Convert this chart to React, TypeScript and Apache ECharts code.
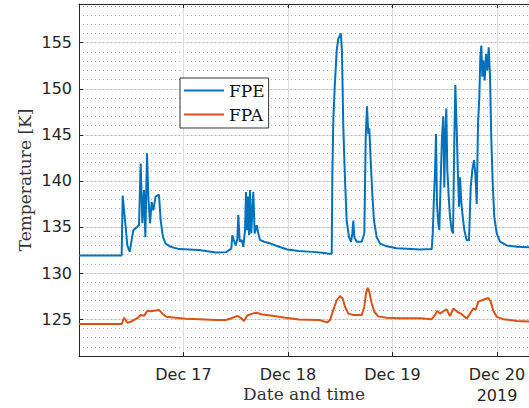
import React, { useEffect, useRef } from "react";
import * as echarts from "echarts";

// Hours since Dec 16 00:00 (2019) and temperatures in K
const fpeHours = [
  0, 9.8, 10.03, 10.41, 10.72, 11.1, 11.64, 12.1, 12.48, 13.17, 13.78, 14.16, 14.55, 14.93, 15.24, 15.62, 15.92,
  16.31, 16.69, 17.07, 17.6, 18.37, 18.76, 19.29, 19.9, 21.05, 22.97, 25.26, 27.56, 31.4, 33.7, 34.98, 35.21,
  35.53, 35.99, 36.36, 36.59, 36.91, 37.37, 37.74, 38.13, 38.36, 38.59, 38.82, 39.05, 39.28, 39.57, 40.03, 40.35,
  40.81, 41.18, 41.57, 42.49, 44.03, 45.93, 47.84, 50.53, 53.58, 55.88, 57.42, 58.04, 58.18, 58.41, 58.73, 59.19,
  59.55, 59.94, 60.17, 60.4, 60.7, 61.09, 61.48, 62.01, 62.47, 62.77, 63.0, 63.23, 63.78, 64.93, 65.53, 65.85,
  66.15, 66.44, 66.67, 66.99, 67.36, 67.75, 68.37, 69.13, 70.67, 72.97, 75.26, 78.32, 81.0, 81.24, 81.53, 81.76,
  81.99, 82.22, 82.52, 82.75, 83.07, 83.37, 83.67, 83.9, 84.13, 84.36, 84.59, 84.91, 85.21, 85.6, 85.9, 86.2,
  86.43, 86.75, 86.98, 87.28, 87.51, 87.8, 88.13, 88.5, 89.04, 89.57, 89.96, 90.33, 90.72, 91.02, 91.34, 91.64,
  91.94, 92.17, 92.4, 92.63, 92.86, 93.18, 93.48, 93.78, 94.1, 94.4, 94.7, 95.02, 95.38, 95.93, 96.69, 98.23,
  100.53, 103.35,
];
const fpeValues = [
  131.9, 131.9, 138.4, 136.5, 135.0, 133.0, 132.3, 133.6, 134.65, 134.95, 135.2, 141.9, 135.4, 139.0, 133.9, 143.0,
  138.3, 135.4, 137.7, 136.8, 138.3, 138.5, 135.7, 133.9, 133.2, 132.85, 132.6, 132.55, 132.5, 132.23, 132.25,
  132.65, 134.1, 133.6, 133.0, 133.7, 136.3, 133.4, 133.6, 132.85, 134.65, 138.8, 134.65, 138.3, 134.1, 139.0,
  134.3, 138.8, 134.3, 135.2, 134.3, 133.6, 133.4, 133.2, 132.85, 132.55, 132.4, 132.3, 132.2, 132.1, 132.1, 140.4,
  146.6, 150.2, 154.2, 155.4, 155.8, 156.0, 153.8, 145.9, 140.1, 135.7, 133.9, 133.4, 134.3, 135.7, 133.9, 133.4,
  133.4, 134.3, 144.8, 148.1, 145.1, 145.7, 142.2, 138.6, 135.7, 133.9, 133.2, 132.9, 132.7, 132.65, 132.55, 132.6,
  134.3, 138.3, 140.8, 145.1, 137.5, 135.4, 134.65, 140.1, 144.8, 147.0, 139.3, 144.8, 147.85, 141.2, 138.3, 136.1,
  134.65, 134.3, 144.4, 150.4, 145.5, 141.5, 137.2, 140.4, 137.7, 136.1, 134.65, 133.55, 133.55, 139.3, 141.2,
  142.25, 140.8, 137.5, 146.2, 149.1, 153.45, 154.7, 151.3, 153.1, 150.9, 153.8, 152.0, 154.5, 151.3, 144.4, 139.7,
  136.1, 134.3, 133.4, 133.0, 132.85, 132.8,
];

const fpaHours = [
  0, 9.8, 10.34, 11.1, 12.25, 13.4, 14.16, 14.93, 15.7, 16.46, 17.2, 18.37, 19.14, 20.06, 22.2, 24.5, 27.56, 31.6,
  33.7, 34.84, 36.36, 37.14, 37.9, 38.65, 39.8, 40.72, 42.1, 44.4, 47.47, 50.53, 55.12, 57.03, 57.65, 58.41, 59.19,
  59.94, 60.56, 61.09, 61.85, 63.0, 64.93, 65.53, 65.92, 66.3, 66.67, 67.23, 67.82, 68.74, 70.67, 73.73, 78.32, 81.0,
  81.76, 82.29, 82.91, 83.67, 84.45, 85.21, 85.97, 86.89, 87.9, 89.04, 89.8, 90.56, 91.11, 91.71, 92.86, 94.0,
  94.56, 95.15, 95.93, 97.45, 100.53, 103.35,
];
const fpaValues = [
  124.46, 124.46, 125.15, 124.6, 124.8, 125.1, 125.45, 125.36, 125.9, 125.85, 125.9, 126.0, 125.6, 125.25, 125.15,
  125.03, 125.0, 124.9, 124.9, 125.07, 125.36, 125.15, 124.8, 125.4, 125.6, 125.7, 125.5, 125.36, 125.15, 124.97,
  124.9, 124.65, 124.9, 126.0, 127.05, 127.5, 127.24, 126.35, 125.6, 125.45, 125.45, 126.35, 127.8, 128.4, 127.96,
  126.7, 125.8, 125.3, 125.15, 125.1, 125.1, 125.0, 125.45, 125.9, 125.6, 125.87, 126.05, 125.33, 126.15, 125.8,
  125.54, 125.07, 125.6, 126.15, 126.05, 126.9, 127.1, 127.3, 126.9, 125.9, 125.25, 125.0, 124.8, 124.75,
];

const dayTicks = [24, 48, 72, 96];
const dayLabels = ["Dec 17", "Dec 18", "Dec 19", "Dec 20\n2019"];
const tempTicks = [125, 130, 135, 140, 145, 150, 155];
const seriesNames = ["FPE", "FPA"];

const X_MIN = 0;
const X_MAX = 103.35;
const Y_MIN = 121;
const Y_MAX = 159.2;

const AXIS_COLOR = "#262626";
const SANS = "DejaVu Sans";
const SERIF = "DejaVu Serif";
const LINE_ICON = "path://M0,0 L40,0 L40,2 L0,2 Z";

export default function App() {
  const ref = useRef<HTMLDivElement>(null);

  useEffect(() => {
    if (!ref.current) return;
    const chart = echarts.init(ref.current, null, { renderer: "svg" });
    const fpeData = fpeHours.map((h, i) => [h, fpeValues[i]]);
    const fpaData = fpaHours.map((h, i) => [h, fpaValues[i]]);

    chart.setOption({
      animation: false,
      backgroundColor: "#ffffff",
      grid: { left: 79, right: 0, top: 4, bottom: 52, outerBoundsMode: "none" },
      legend: {
        data: seriesNames,
        orient: "vertical",
        left: 180,
        top: 78,
        padding: [4, 4, 5, 4],
        itemGap: 7,
        itemWidth: 40,
        itemHeight: 2,
        icon: LINE_ICON,
        borderColor: "#333",
        borderWidth: 1,
        borderRadius: 0,
        backgroundColor: "#fff",
        textStyle: { fontFamily: SERIF, fontSize: 17, color: "#111" },
      },
      xAxis: [
        {
          type: "value",
          min: X_MIN,
          max: X_MAX,
          interval: 24,
          name: "Date and time",
          nameLocation: "middle",
          nameGap: 29,
          nameMoveOverlap: false,
          nameTextStyle: { fontFamily: SERIF, fontSize: 17, color: "#333" },
          axisLine: { show: true, onZero: false, lineStyle: { color: AXIS_COLOR, width: 1 } },
          axisTick: { show: true, inside: true, length: 4, lineStyle: { color: AXIS_COLOR } },
          axisLabel: {
            customValues: dayTicks,
            formatter: (v: number) => {
              const i = dayTicks.indexOf(Math.round(v));
              return i >= 0 ? dayLabels[i] : "";
            },
            fontFamily: SANS,
            fontSize: 16,
            color: AXIS_COLOR,
            margin: 8,
            lineHeight: 21,
          },
          splitLine: { show: true, lineStyle: { color: "#dcdcdc", width: 1 } },
        },
        {
          type: "value",
          position: "top",
          min: X_MIN,
          max: X_MAX,
          interval: 24,
          axisLine: { show: true, onZero: false, lineStyle: { color: AXIS_COLOR, width: 1 } },
          axisTick: { show: true, inside: true, length: 4, lineStyle: { color: AXIS_COLOR } },
          axisLabel: { show: false },
          splitLine: { show: false },
        },
      ],
      yAxis: [
        {
          type: "value",
          min: Y_MIN,
          max: Y_MAX,
          interval: 1,
          name: "Temperature [K]",
          nameLocation: "middle",
          nameRotate: 90,
          nameGap: 46,
          nameMoveOverlap: false,
          nameTextStyle: { fontFamily: SERIF, fontSize: 17, color: "#333" },
          axisLine: { show: true, onZero: false, lineStyle: { color: AXIS_COLOR, width: 1 } },
          axisTick: { show: true, inside: true, length: 4, customValues: tempTicks, lineStyle: { color: AXIS_COLOR } },
          axisLabel: {
            customValues: tempTicks,
            fontFamily: SANS,
            fontSize: 16,
            color: AXIS_COLOR,
            margin: 7,
          },
          splitLine: { show: true, lineStyle: { color: "#dcdcdc", width: 1 } },
        },
        {
          type: "value",
          min: Y_MIN,
          max: Y_MAX,
          interval: 1,
          axisLine: { show: false },
          axisTick: { show: false },
          axisLabel: { show: false },
          splitLine: { show: true, lineStyle: { color: "#b4b4b4", width: 1, type: [1, 3] } },
        },
      ],
      series: [
        {
          name: seriesNames[0],
          type: "line",
          data: fpeData,
          showSymbol: false,
          symbol: "none",
          clip: true,
          lineStyle: { color: "#0072BD", width: 2 },
          itemStyle: { color: "#0072BD" },
          z: 3,
        },
        {
          name: seriesNames[1],
          type: "line",
          data: fpaData,
          showSymbol: false,
          symbol: "none",
          clip: true,
          lineStyle: { color: "#D95319", width: 2 },
          itemStyle: { color: "#D95319" },
          z: 3,
        },
      ],
    });

    return () => chart.dispose();
  }, []);

  return (
    <div
      ref={ref}
      style={{ position: "absolute", left: 0, top: 0, width: 529, height: 408, background: "#fff" }}
    />
  );
}
